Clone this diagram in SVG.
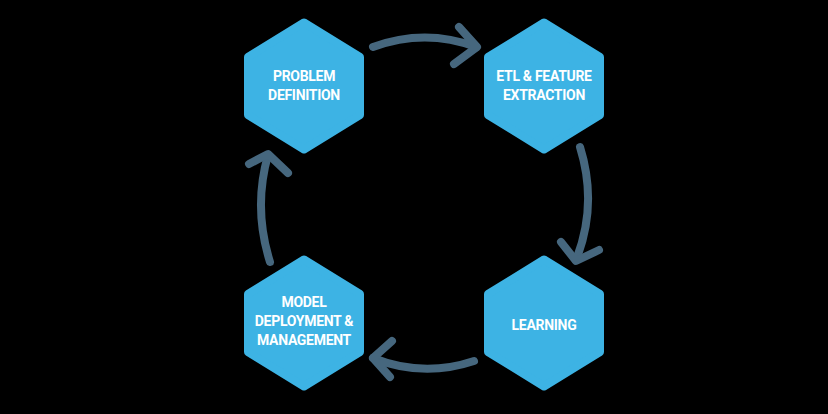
<svg xmlns="http://www.w3.org/2000/svg" width="828" height="414" viewBox="0 0 828 414">
<defs>
<style>
.hex{fill:#3db3e4;stroke:#3db3e4;stroke-width:8;stroke-linejoin:round}
.t{font-family:Roboto,"Liberation Sans",sans-serif;font-weight:700;font-size:14px;fill:#fff;text-anchor:middle;letter-spacing:-0.3px}
.arc{fill:none;stroke:#46677e;stroke-width:8;stroke-linecap:round;stroke-linejoin:round}
</style>
<polygon id="h" points="0,-63.5 56,-29 56,29 0,63.5 -56,29 -56,-29"/>
</defs>
<rect width="828" height="414" fill="#000"/>
<g id="connectors">
<path class="arc" d="M373,47 Q425,28 476,47"/>
<path class="arc" d="M459,27 L477,47 L454,64"/>
<path class="arc" d="M580,147 Q598,205 576,260"/>
<path class="arc" d="M561,242 L576,261 L599,250"/>
<path class="arc" d="M474,361 Q423,378 373,358"/>
<path class="arc" d="M392,341 L373,358 L390,377"/>
<path class="arc" d="M270,262 Q253,208 268,155"/>
<path class="arc" d="M249,164 L268,154 L288,173"/>
</g>
<g id="n1"><use href="#h" x="304" y="86" class="hex"/><text class="t" x="304" y="81">PROBLEM</text><text class="t" x="304" y="100">DEFINITION</text></g>
<g id="n2"><use href="#h" x="544" y="86" class="hex"/><text class="t" x="544" y="81">ETL &amp; FEATURE</text><text class="t" x="544" y="100">EXTRACTION</text></g>
<g id="n3"><use href="#h" x="544" y="323" class="hex"/><text class="t" x="544" y="330">LEARNING</text></g>
<g id="n4"><use href="#h" x="304" y="323" class="hex"/><text class="t" x="304" y="307">MODEL</text><text class="t" x="304" y="326">DEPLOYMENT &amp;</text><text class="t" x="304" y="345">MANAGEMENT</text></g>
</svg>
